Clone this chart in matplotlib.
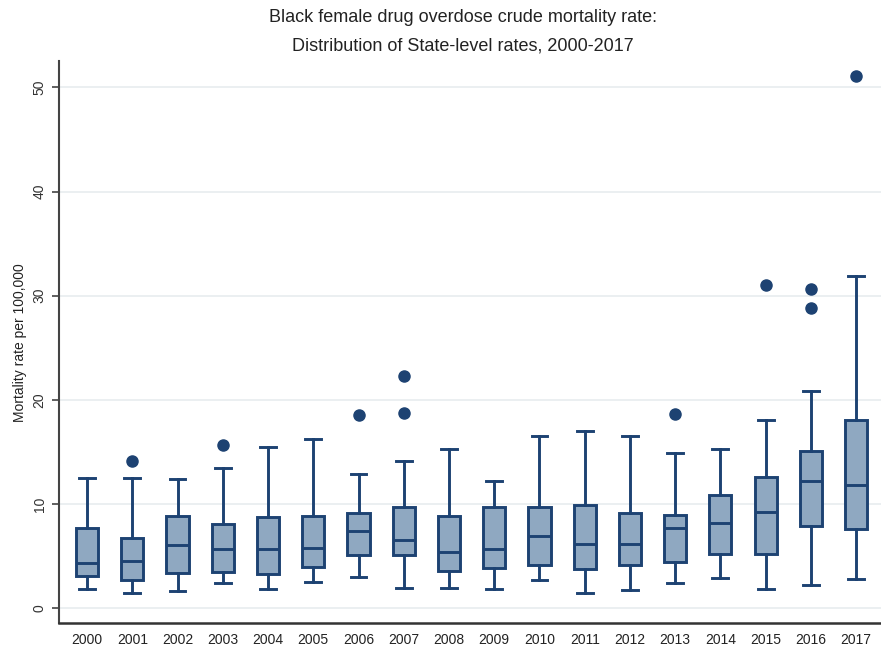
import matplotlib
matplotlib.use("Agg")
import matplotlib.pyplot as plt
from matplotlib import font_manager

years = [str(y) for y in range(2000, 2018)]
whislo = [1.83, 1.47, 1.63, 2.37, 1.83, 2.50, 2.98, 1.96, 1.96, 1.79, 2.72, 1.47, 1.73, 2.37, 2.85, 1.79, 2.21, 2.82]
q1     = [3.08, 2.69, 3.33, 3.43, 3.24, 3.94, 5.13, 5.13, 3.56, 3.81, 4.13, 3.72, 4.13, 4.45, 5.16, 5.22, 7.92, 7.60]
med    = [4.30, 4.52, 6.06, 5.64, 5.64, 5.80, 7.44, 6.54, 5.42, 5.67, 6.96, 6.19, 6.19, 7.69, 8.17, 9.20, 12.24, 11.86]
q3     = [7.66, 6.76, 8.85, 8.08, 8.72, 8.85, 9.17, 9.71, 8.85, 9.71, 9.71, 9.94, 9.10, 8.94, 10.87, 12.57, 15.13, 18.04]
whishi = [12.47, 12.47, 12.37, 13.49, 15.51, 16.28, 12.85, 14.13, 15.26, 12.24, 16.54, 17.02, 16.51, 14.90, 15.26, 18.04, 20.83, 31.86]
outliers = [[], [14.13], [], [15.64], [], [], [18.56], [18.72, 22.3], [], [], [], [], [], [18.68], [], [31.06], [30.64, 28.78], [51.1]]

title_lines = ["Black female drug overdose crude mortality rate:",
               "Distribution of State-level rates, 2000-2017"]
ylabel = "Mortality rate per 100,000"
yticks = [0, 10, 20, 30, 40, 50]

avail = {f.name for f in font_manager.fontManager.ttflist}
fam = "Liberation Sans Narrow" if "Liberation Sans Narrow" in avail else "Liberation Sans"
plt.rcParams['font.family'] = [fam, 'DejaVu Sans']

fill = "#8fa8c1"
edge = "#1d4272"

fig = plt.figure(figsize=(8.81, 6.47), dpi=100)
ax = fig.add_axes([0.067, 0.037, 0.933, 0.868])

stats = []
for i in range(len(years)):
    stats.append(dict(whislo=whislo[i], q1=q1[i], med=med[i], q3=q3[i], whishi=whishi[i], fliers=outliers[i], label=years[i]))

positions = list(range(len(years)))
ax.bxp(stats, positions=positions, widths=0.49, patch_artist=True, showfliers=True,
       boxprops=dict(facecolor=fill, edgecolor=edge, linewidth=2.1),
       medianprops=dict(color=edge, linewidth=2.1),
       whiskerprops=dict(color=edge, linewidth=2.1),
       capprops=dict(color=edge, linewidth=2.1),
       capwidths=0.35,
       flierprops=dict(marker='o', markerfacecolor=edge, markeredgecolor=edge, markersize=8))

ax.set_xlim(-0.62, 17.55)
ax.set_ylim(-1.44, 52.5)
ax.set_yticks(yticks)
ax.set_yticklabels([str(t) for t in yticks], rotation=90, va='center', fontsize=10, color="#333333")
ax.set_xticks(positions)
ax.set_xticklabels(years, fontsize=10, color="#222222")
ax.tick_params(axis='x', length=0, pad=7)
ax.tick_params(axis='y', length=5, width=1.2, color="#444444", pad=4)
ax.yaxis.grid(True, color="#e8ecef", linewidth=1.2)
ax.set_axisbelow(True)
for s in ['top', 'right']:
    ax.spines[s].set_visible(False)
ax.spines['left'].set_color("#444444")
ax.spines['left'].set_linewidth(1.5)
ax.spines['bottom'].set_color("#333333")
ax.spines['bottom'].set_linewidth(1.8)
ax.set_ylabel(ylabel, fontsize=10, color="#222222", labelpad=4)

fig.text(0.525, 1 - 18 / 647, title_lines[0], ha='center', va='center', fontsize=13, color="#222222")
fig.text(0.525, 1 - 46 / 647, title_lines[1], ha='center', va='center', fontsize=13, color="#222222")

fig.savefig("out.png", dpi=100)
